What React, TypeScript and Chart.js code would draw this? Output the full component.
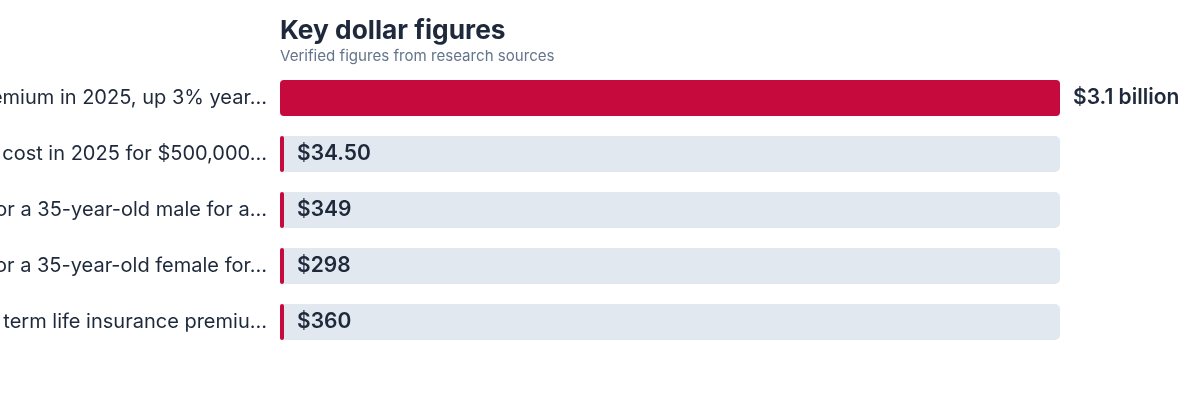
import React, { useEffect, useRef } from "react";
import { Chart, registerables } from "chart.js";

Chart.register(...registerables);

const TITLE = "Key dollar figures";
const SUBTITLE = "Verified figures from research sources";

const categories = [
  "Total U.S. term life insurance premium in 2025, up 3% year…",
  "Average monthly term life insurance cost in 2025 for $500,000…",
  "Average annual term life premium for a 35-year-old male for a…",
  "Average annual term life premium for a 35-year-old female for…",
  "Median annual term life insurance premiu…",
];

const values = [3100000000, 34.5, 349, 298, 360];
const valueLabels = ["$3.1 billion", "$34.50", "$349", "$298", "$360"];

const FONT = "Inter, 'Noto Sans', sans-serif";
const TEXT = "#1e293b";
const RED = "#c60a3e";
const TRACK = "#e2e8f0";

export default function App() {
  const ref = useRef<HTMLCanvasElement | null>(null);

  useEffect(() => {
    if (!ref.current) return;
    const maxVal = Math.max(...values);
    const track = values.map(() => maxVal);

    const headerPlugin = {
      id: "header",
      afterDraw(chart: any) {
        const { ctx, chartArea } = chart;
        ctx.save();
        ctx.textAlign = "left";
        ctx.textBaseline = "alphabetic";
        ctx.fillStyle = TEXT;
        ctx.font = `700 26.3px ${FONT}`;
        ctx.fillText(TITLE, chartArea.left, 39);
        ctx.fillStyle = "#64748b";
        ctx.font = `400 15.1px ${FONT}`;
        ctx.fillText(SUBTITLE, chartArea.left, 61);
        ctx.restore();
      },
    };

    const valuePlugin = {
      id: "valueLabels",
      afterDatasetsDraw(chart: any) {
        const { ctx, chartArea } = chart;
        const meta = chart.getDatasetMeta(0);
        ctx.save();
        ctx.font = `600 21px ${FONT}`;
        ctx.fillStyle = TEXT;
        ctx.textBaseline = "middle";
        ctx.textAlign = "left";
        meta.data.forEach((bar: any, i: number) => {
          const frac = values[i] / maxVal;
          if (frac > 0.85) {
            ctx.fillText(valueLabels[i], bar.x + 13, bar.y);
          } else {
            ctx.fillText(valueLabels[i], chartArea.left + 17, bar.y);
          }
        });
        ctx.restore();
      },
    };

    const chart = new Chart(ref.current, {
      type: "bar",
      data: {
        labels: categories,
        datasets: [
          {
            data: values,
            backgroundColor: RED,
            borderRadius: 4,
            borderSkipped: false,
            minBarLength: 4,
            grouped: false,
            order: 0,
            barPercentage: 1,
            categoryPercentage: 36 / 56,
          },
          {
            data: track,
            backgroundColor: TRACK,
            borderRadius: 5,
            borderSkipped: false,
            grouped: false,
            order: 1,
            barPercentage: 1,
            categoryPercentage: 36 / 56,
          },
        ],
      },
      options: {
        indexAxis: "y",
        responsive: false,
        animation: false,
        devicePixelRatio: 1,
        layout: { padding: { top: 70, right: 140, bottom: 50, left: 0 } },
        plugins: {
          legend: { display: false },
          tooltip: { enabled: false },
          title: { display: false },
        },
        scales: {
          x: { display: false, min: 0, max: maxVal },
          y: {
            grid: { display: false },
            border: { display: false },
            ticks: {
              color: TEXT,
              padding: 5,
              font: { family: FONT, size: 20, weight: "400" },
            },
            afterFit(scale: any) {
              scale.width = 280;
            },
          },
        },
      } as any,
      plugins: [headerPlugin, valuePlugin],
    });
    return () => chart.destroy();
  }, []);

  return (
    <div style={{ position: "fixed", left: 0, top: 0, width: 1200, height: 400, background: "#fff" }}>
      <canvas ref={ref} width={1200} height={400} style={{ width: 1200, height: 400, display: "block" }} />
    </div>
  );
}
